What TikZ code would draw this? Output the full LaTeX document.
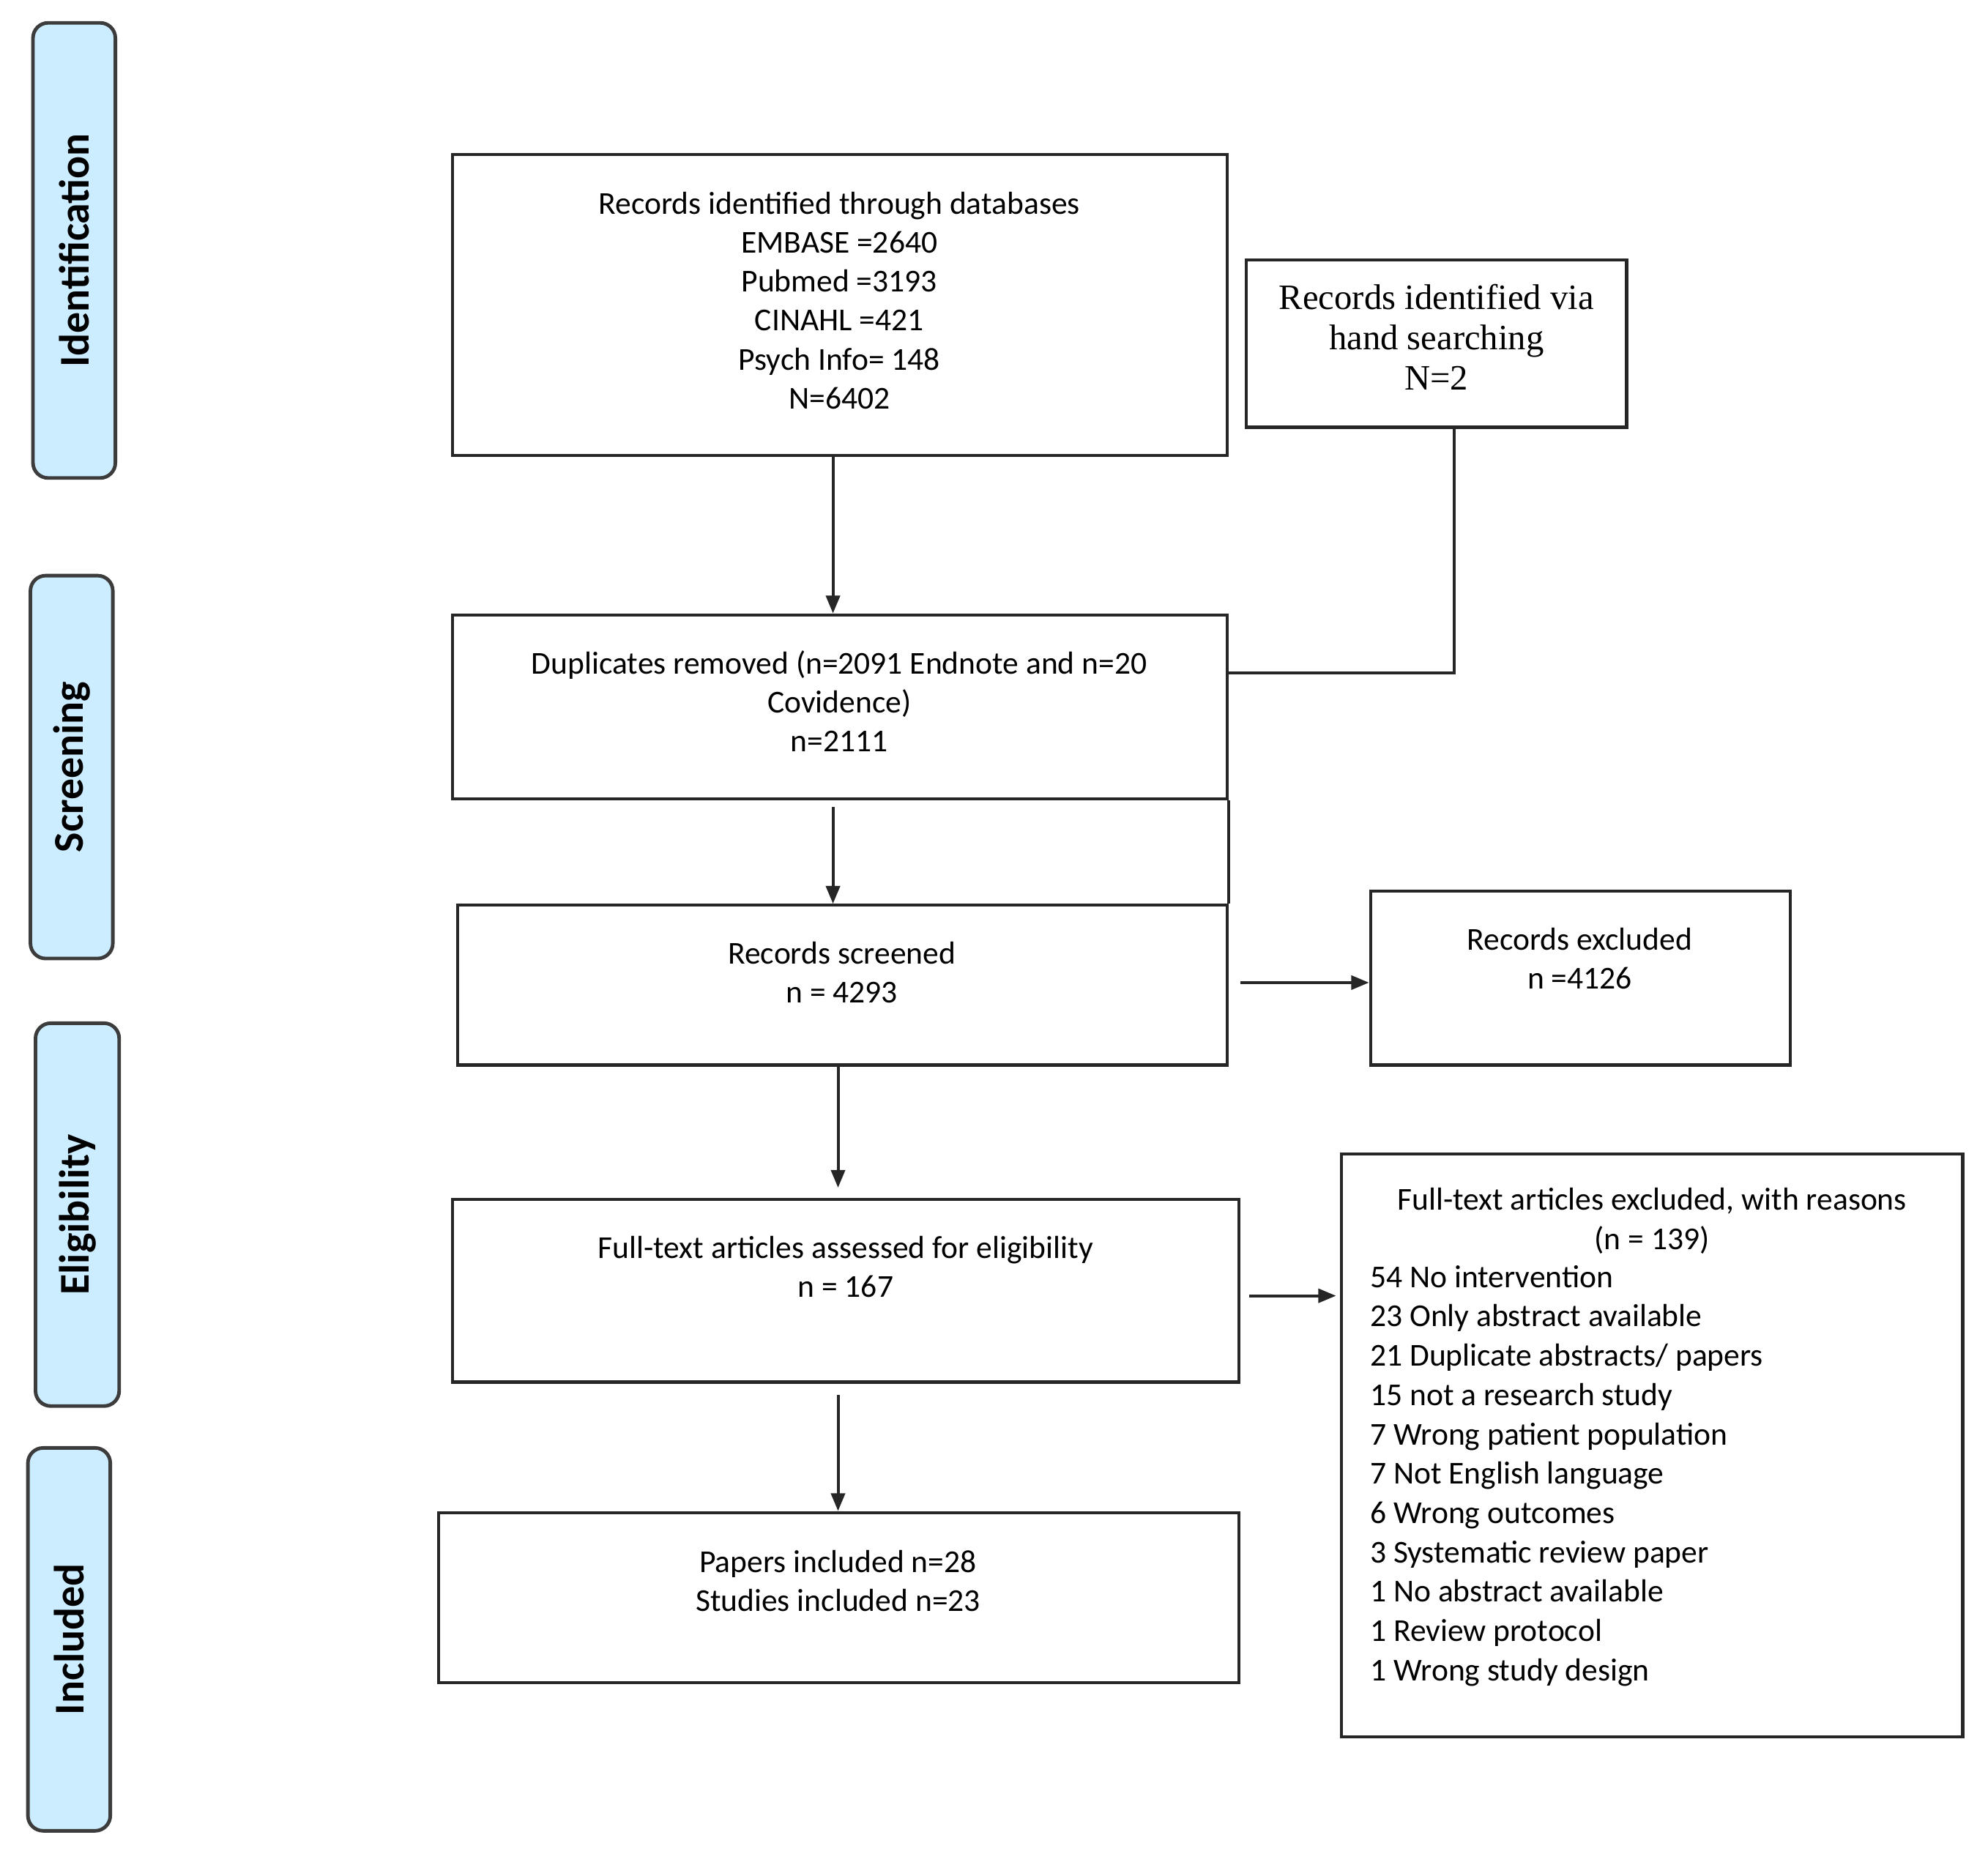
\documentclass[tikz,border=0pt]{standalone}
\usepackage{fontspec}
\setmainfont{Carlito}
\newfontfamily\serifface{Liberation Serif}
\usetikzlibrary{fit,arrows.meta}
\definecolor{phaseblue}{RGB}{204,236,255}
\definecolor{framegray}{RGB}{60,60,60}
\begin{document}
\begin{tikzpicture}[x=0.01cm,y=-0.01cm,
  box/.style={draw=black!85, line width=0.7pt, inner sep=0pt},
  phase/.style={draw=framegray, line width=0.8pt, fill=phaseblue, rounded corners=0.12cm, inner sep=0pt},
  phasetxt/.style={rotate=90, inner sep=0pt, font=\bfseries\fontsize{9.5pt}{11pt}\selectfont},
  txt/.style={inner sep=0pt, align=center, font=\fontsize{7.15pt}{8.75pt}\selectfont},
  listtxt/.style={inner sep=0pt, align=left, anchor=west, font=\fontsize{7.15pt}{8.82pt}\selectfont},
  sertxt/.style={inner sep=0pt, align=center, font=\serifface\fontsize{8pt}{9pt}\selectfont},
  conn/.style={draw=black!85, line width=0.65pt},
  arr/.style={conn, -{Triangle[length=0.14cm,width=0.11cm]}}
]
\useasboundingbox (0,0) rectangle (1568,1462);

% phase bars
\node[phase, fit={(26,18) (91,377)}] (p1) {};
\node[phasetxt] (p1t) at (p1.center) {Identification};
\node[phase, fit={(24,454) (89,756)}] (p2) {};
\node[phasetxt] (p2t) at (p2.center) {Screening};
\node[phase, fit={(28,807) (94,1109)}] (p3) {};
\node[phasetxt] (p3t) at (p3.center) {Eligibility};
\node[phase, fit={(22,1142) (87,1444)}] (p4) {};
\node[phasetxt] (p4t) at (p4.center) {Included};

% boxes
\node[box, fit={(357,122) (968,359)}] (b1) {};
\node[txt] (t1) at (662,237) {Records identified through databases\\EMBASE =2640\\Pubmed =3193\\CINAHL =421\\Psych Info= 148\\N=6402};

\node[box, fit={(983,205) (1283,337)}] (b2) {};
\node[sertxt] (t2) at (1133,266) {Records identified via\\hand searching\\N=2};

\node[box, fit={(357,485) (968,630)}] (b3) {};
\node[txt] (t3) at (662,553) {Duplicates removed (n=2091 Endnote and n=20\\Covidence)\\n=2111};

\node[box, fit={(361,714) (968,840)}] (b4) {};
\node[txt] (t4) at (664,767) {Records screened\\n = 4293};

\node[box, fit={(1081,703) (1412,840)}] (b5) {};
\node[txt] (t5) at (1246,756) {Records excluded\\n =4126};

\node[box, fit={(357,946) (977,1090)}] (b6) {};
\node[txt] (t6) at (667,999) {Full-text articles assessed for eligibility\\n = 167};

\node[box, fit={(1058,910) (1548,1370)}] (b7) {};
\node[txt] (t7) at (1303,963) {Full-text articles excluded, with reasons\\(n = 139)};
\node[listtxt] (l7) at (1080,1164) {54 No intervention\\23 Only abstract available\\21 Duplicate abstracts/ papers\\15 not a research study\\7 Wrong patient population\\7 Not English language\\6 Wrong outcomes\\3 Systematic review paper\\1 No abstract available\\1 Review protocol\\1 Wrong study design};

\node[box, fit={(346,1193) (977,1327)}] (b8) {};
\node[txt] (t8) at (661,1247) {Papers included n=28\\Studies included n=23};

% connectors
\draw[arr] ([xshift=-0.055cm]b1.south) -- ([xshift=-0.055cm]b1.south |- b3.north);
\draw[conn] ([xshift=0.14cm]b2.south) |- ([yshift=0.265cm]b3.east);
\draw[arr] ([xshift=-0.055cm,yshift=-0.05cm]b3.south) -- ([xshift=-0.055cm]b3.south |- b4.north);
\draw[conn] (b3.south east) -- (b4.north east);
\draw[arr] ([xshift=0.09cm,yshift=0.02cm]b4.east) -- ([yshift=0.02cm]b4.east -| b5.west);
\draw[arr] ([xshift=-0.035cm]b4.south) -- ([xshift=-0.035cm,yshift=0.08cm]b4.south |- b6.north);
\draw[arr] ([xshift=0.07cm,yshift=-0.04cm]b6.east) -- ([xshift=-0.03cm,yshift=-0.04cm]b6.east -| b7.west);
\draw[arr] ([xshift=-0.06cm,yshift=-0.09cm]b6.south) -- ([xshift=-0.06cm]b6.south |- b8.north);
\end{tikzpicture}
\end{document}
